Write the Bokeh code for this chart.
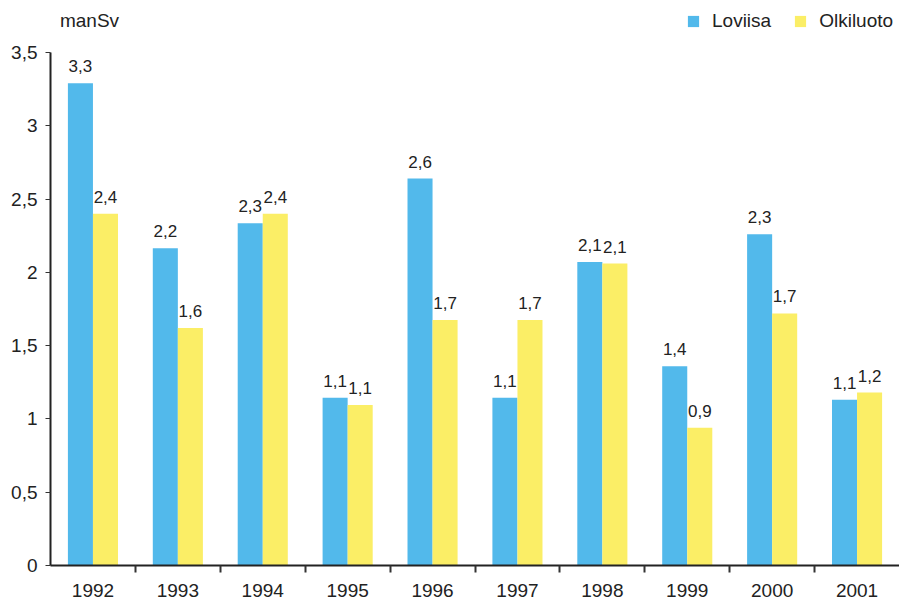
from bokeh.plotting import figure
from bokeh.layouts import column
from bokeh.models import (ColumnDataSource, FixedTicker, Legend, LegendItem, Range1d, Label)
from bokeh.core.properties import value
from bokeh.embed import file_html
from bokeh.resources import INLINE

years = ["1992", "1993", "1994", "1995", "1996", "1997", "1998", "1999", "2000", "2001"]
loviisa = [3.29, 2.165, 2.335, 1.145, 2.64, 1.145, 2.07, 1.36, 2.26, 1.13]
olkiluoto = [2.40, 1.62, 2.40, 1.095, 1.675, 1.675, 2.06, 0.94, 1.72, 1.18]
loviisa_labels = ["3,3", "2,2", "2,3", "1,1", "2,6", "1,1", "2,1", "1,4", "2,3", "1,1"]
olkiluoto_labels = ["2,4", "1,6", "2,4", "1,1", "1,7", "1,7", "2,1", "0,9", "1,7", "1,2"]
y_ticks = [0, 0.5, 1, 1.5, 2, 2.5, 3, 3.5]
y_tick_labels = ["0", "0,5", "1", "1,5", "2", "2,5", "3", "3,5"]
series_names = ["Loviisa", "Olkiluoto"]

BLUE = "#52B9EB"
YELLOW = "#FBEE66"
TEXT = "#222222"
FONT = "Liberation Sans"
W = 899
HEAD = 36

bw = 0.295
centers = [i + 0.5 for i in range(len(years))]
src_l = ColumnDataSource(dict(x=[c - bw / 2 for c in centers], top=loviisa, lab=loviisa_labels))
src_o = ColumnDataSource(dict(x=[c + bw / 2 for c in centers], top=olkiluoto, lab=olkiluoto_labels))

# ---- header (unit label + legend) ----
head = figure(width=W, height=HEAD, output_backend="svg", toolbar_location=None,
              x_range=Range1d(0, W), y_range=Range1d(HEAD, 0),
              min_border=0, x_axis_type=None, y_axis_type=None)
head.outline_line_color = None
head.xgrid.visible = False
head.ygrid.visible = False
hl = head.vbar(x="x", top="top", width=bw, source=src_l, fill_color=BLUE, line_color=None, visible=False)
ho = head.vbar(x="x", top="top", width=bw, source=src_o, fill_color=YELLOW, line_color=None, visible=False)
head.add_layout(Label(x=10, y=20, text="manSv", text_font=FONT, text_font_size="19px",
                      text_color=TEXT, text_baseline="middle"))
legend = Legend(items=[LegendItem(label=series_names[0], renderers=[hl]),
                       LegendItem(label=series_names[1], renderers=[ho])],
                orientation="horizontal", location=(636, 4),
                label_text_font_size="19px", label_text_font=FONT, label_text_color=TEXT,
                glyph_width=14, glyph_height=14, spacing=22, label_standoff=12,
                border_line_color=None, background_fill_alpha=0, padding=0, margin=0,
                inactive_fill_alpha=0, click_policy="none")
head.add_layout(legend, "center")

# ---- main chart ----
p = figure(width=W, height=599 - HEAD, output_backend="svg", toolbar_location=None,
           x_range=Range1d(0, len(years)), y_range=Range1d(0, 3.5),
           min_border_left=50, min_border_right=0, min_border_top=52 - HEAD, min_border_bottom=33)
p.outline_line_color = None
p.xgrid.visible = False
p.ygrid.visible = False

p.vbar(x="x", top="top", width=bw, source=src_l, fill_color=BLUE, line_color=None)
p.vbar(x="x", top="top", width=bw, source=src_o, fill_color=YELLOW, line_color=None)

for src in (src_l, src_o):
    p.text(x="x", y="top", text="lab", source=src, text_align="center", text_baseline="bottom",
           y_offset=-11, text_font_size="17px", text_color=TEXT, text_font=value(FONT))

xa = p.xaxis[0]
xa.ticker = FixedTicker(ticks=centers, minor_ticks=list(range(1, len(years))))
xa.major_label_overrides = {c: y for c, y in zip(centers, years)}
xa.major_tick_out = 0
xa.major_tick_in = 0
xa.minor_tick_out = 7
xa.minor_tick_in = 0
xa.minor_tick_line_color = "#333333"
xa.minor_tick_line_width = 2
xa.axis_line_color = "#222222"
xa.axis_line_width = 2
xa.major_label_standoff = 11
xa.major_label_text_font_size = "19px"
xa.major_label_text_font = FONT
xa.major_label_text_color = TEXT

ya = p.yaxis[0]
ya.ticker = FixedTicker(ticks=y_ticks, minor_ticks=[])
ya.major_label_overrides = {t: l for t, l in zip(y_ticks, y_tick_labels)}
ya.major_tick_out = 5
ya.major_tick_in = 0
ya.major_tick_line_color = "#333333"
ya.major_tick_line_width = 1
ya.axis_line_color = "#222222"
ya.axis_line_width = 2
ya.major_label_standoff = 8
ya.major_label_text_font_size = "19px"
ya.major_label_text_font = FONT
ya.major_label_text_color = TEXT

layout = column(head, p, spacing=0)
open("out.html", "w").write(file_html(layout, INLINE))
